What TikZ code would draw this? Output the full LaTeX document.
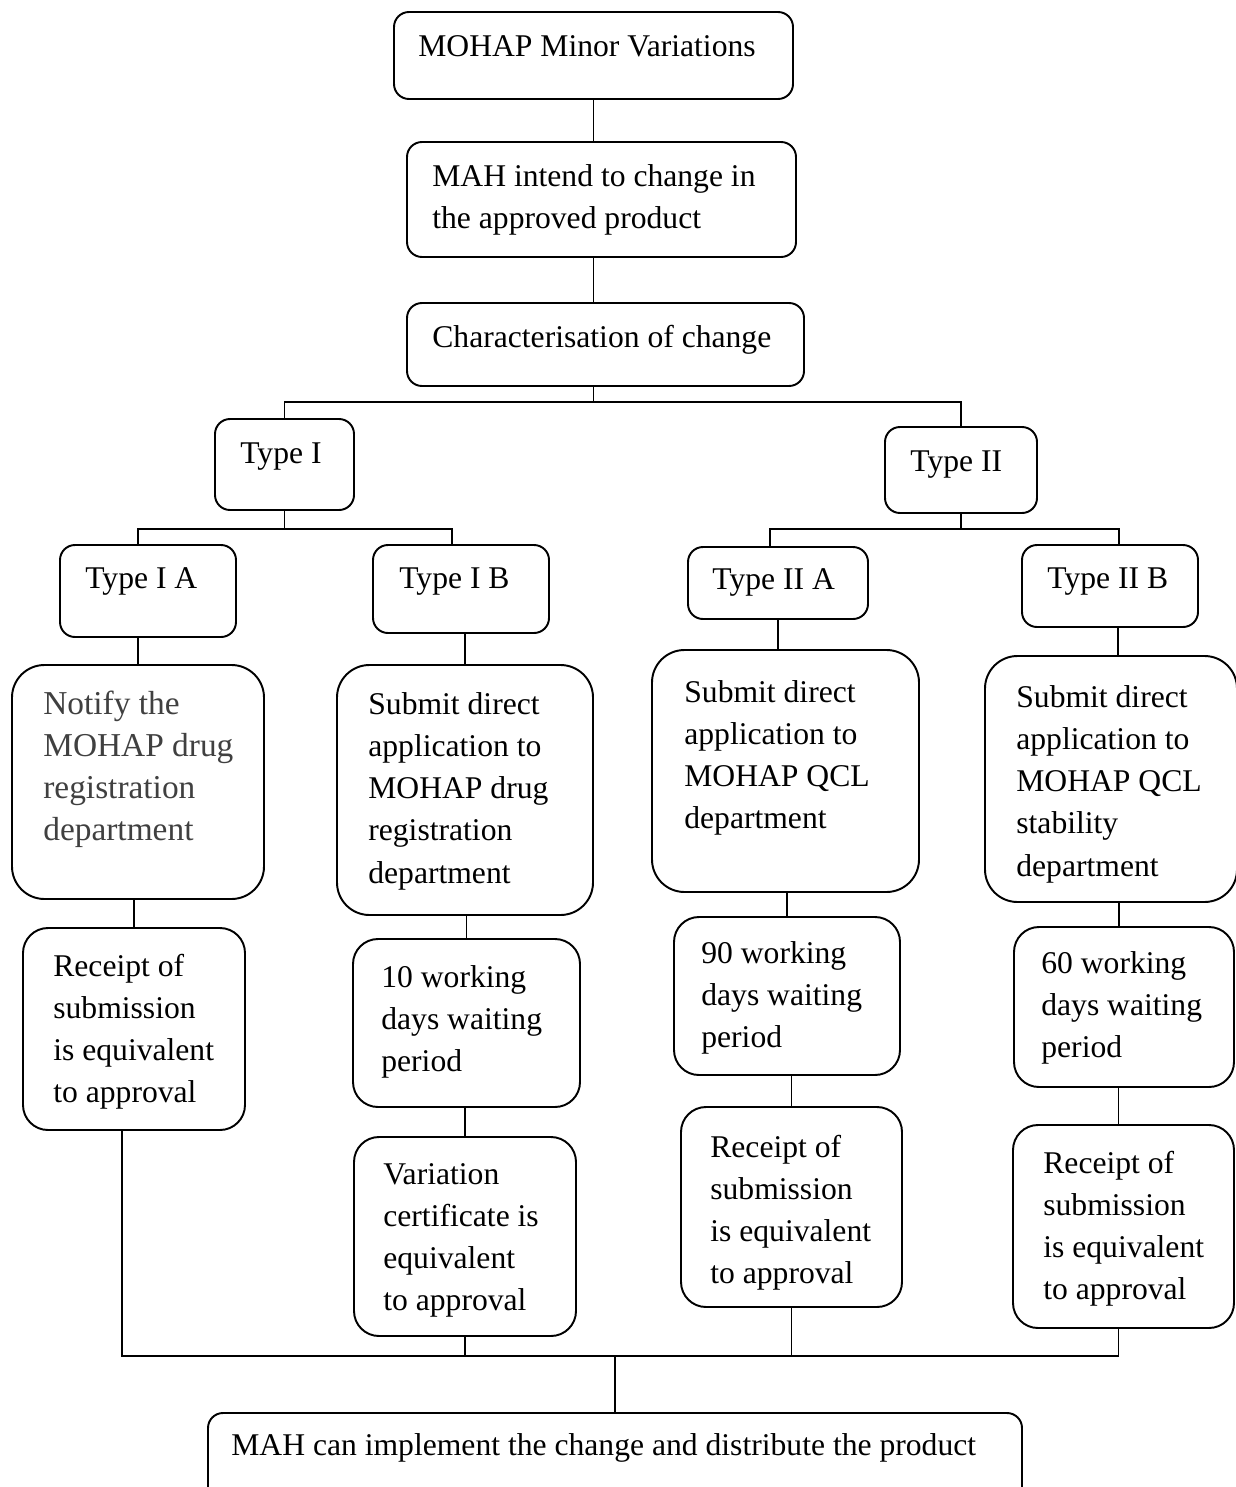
\documentclass[tikz,border=0pt]{standalone}
\usepackage{fontspec}
\setmainfont{Liberation Serif}
\usetikzlibrary{fit,calc}

\tikzset{
  bx/.style={draw, line width=1.1pt, rounded corners=0.3cm, inner sep=0pt},
  midbx/.style={bx, rounded corners=0.5cm},
  bigbx/.style={bx, rounded corners=0.65cm},
  txt/.style={anchor=north west, inner sep=0pt, yshift=16.8pt, align=left, font=\fontsize{18}{24}\selectfont},
  greytxt/.style={txt, text=black!75, font=\fontsize{19}{24}\selectfont},
  conn/.style={line width=1.1pt},
}

\begin{document}
\begin{tikzpicture}[x=0.02cm, y=-0.02cm]
        \useasboundingbox (0, 0) rectangle (1235, 1487);
        % top of the chart
        \node [bx, fit={(394, 12) (793, 99)}] (top) {};
        \node [txt] (top-t) at (418, 56) {\strut MOHAP Minor Variations};
        \node [bx, fit={(407, 142) (796, 257)}] (mah) {};
        \node [txt] (mah-t) at (432, 186) {\strut MAH intend to change in\\the approved product};
        \node [bx, fit={(407, 303) (804, 386)}] (charac) {};
        \node [txt] (charac-t) at (432, 347) {\strut Characterisation of change};
        % types
        \node [bx, fit={(215, 419) (354, 510)}] (typeI) {};
        \node [txt] (typeI-t) at (240, 463) {\strut Type I};
        \node [bx, fit={(885, 427) (1037, 513)}] (typeII) {};
        \node [txt] (typeII-t) at (910, 471) {\strut Type II};
        \node [bx, fit={(60, 545) (236, 637)}] (typeIA) {};
        \node [txt] (typeIA-t) at (85, 588) {\strut Type I A};
        \node [bx, fit={(373, 545) (549, 633)}] (typeIB) {};
        \node [txt] (typeIB-t) at (399, 588) {\strut Type I B};
        \node [bx, fit={(688, 547) (868, 619)}] (typeIIA) {};
        \node [txt] (typeIIA-t) at (712, 589) {\strut Type II A};
        \node [bx, fit={(1022, 545) (1198, 627)}] (typeIIB) {};
        \node [txt] (typeIIB-t) at (1047, 588) {\strut Type II B};
        % what to submit
        \node [bigbx, fit={(12, 665) (264, 899)}] (notify) {};
        \node [greytxt] (notify-t) at (43, 714) {\strut Notify the\\MOHAP drug\\registration\\department};
        \node [bigbx, fit={(337, 665) (593, 915)}] (submitIB) {};
        \node [txt] (submitIB-t) at (368, 714) {\strut Submit direct\\application to\\MOHAP drug\\registration\\department};
        \node [bigbx, fit={(652, 650) (919, 892)}] (submitIIA) {};
        \node [txt] (submitIIA-t) at (684, 702) {\strut Submit direct\\application to\\MOHAP QCL\\department};
        \node [bigbx, fit={(985, 656) (1237, 902)}] (submitIIB) {};
        \node [txt] (submitIIB-t) at (1016, 707) {\strut Submit direct\\application to\\MOHAP QCL\\stability\\department};
        % waiting
        \node [midbx, fit={(23, 928) (245, 1130)}] (receiptIA) {};
        \node [txt] (receiptIA-t) at (53, 976) {\strut Receipt of\\submission\\is equivalent\\to approval};
        \node [midbx, fit={(353, 939) (580, 1107)}] (waitIB) {};
        \node [txt] (waitIB-t) at (381, 987) {\strut 10 working\\days waiting\\period};
        \node [midbx, fit={(674, 917) (900, 1075)}] (waitIIA) {};
        \node [txt] (waitIIA-t) at (701, 963) {\strut 90 working\\days waiting\\period};
        \node [midbx, fit={(1014, 927) (1234, 1087)}] (waitIIB) {};
        \node [txt] (waitIIB-t) at (1041, 973) {\strut 60 working\\days waiting\\period};
        % approval
        \node [midbx, fit={(354, 1137) (576, 1336)}] (certIB) {};
        \node [txt] (certIB-t) at (383, 1184) {\strut Variation\\certificate is\\equivalent\\to approval};
        \node [midbx, fit={(681, 1107) (902, 1307)}] (receiptIIA) {};
        \node [txt] (receiptIIA-t) at (710, 1157) {\strut Receipt of\\submission\\is equivalent\\to approval};
        \node [midbx, fit={(1013, 1125) (1234, 1328)}] (receiptIIB) {};
        \node [txt] (receiptIIB-t) at (1043, 1173) {\strut Receipt of\\submission\\is equivalent\\to approval};
        \node [bx, fit={(208, 1413) (1022, 1520)}] (implement) {};
        \node [txt] (implement-t) at (231, 1455) {\strut MAH can implement the change and distribute the product};
        % connectors
        \coordinate (busA) at (593.5, 402);
        \coordinate (busB) at (284.5, 529);
        \coordinate (busC) at (961, 529);
        \coordinate (busE) at (615, 1356);
        \draw [conn] (top.south) -- (top.south |- mah.north);
        \draw [conn] (top.south |- mah.south) -- (top.south |- charac.north);
        \draw [conn] (top.south |- charac.south) -- (busA);
        \draw [conn] (typeI.north) |- (busA) -| (typeII.north);
        \draw [conn] (typeI.south) -- (busB);
        \draw [conn] (notify.north |- typeIA.north) |- (busB) -| ([xshift=-0.18cm]typeIB.north);
        \draw [conn] (typeII.south) -- (busC);
        \draw [conn] ([xshift=-0.16cm]typeIIA.north) |- (busC) -| ([xshift=0.18cm]typeIIB.north);
        \draw [conn] (notify.north) -- (notify.north |- typeIA.south);
        \draw [conn] (submitIB.north) -- (submitIB.north |- typeIB.south);
        \draw [conn] (typeIIA.south) -- (typeIIA.south |- submitIIA.north);
        \draw [conn] ([xshift=0.14cm]submitIIB.north) -- ([xshift=0.14cm]submitIIB.north |- typeIIB.south);
        \draw [conn] (receiptIA.north) -- (receiptIA.north |- notify.south);
        \draw [conn] (waitIB.north) -- (waitIB.north |- submitIB.south);
        \draw [conn] (waitIIA.north) -- (waitIIA.north |- submitIIA.south);
        \draw [conn] ([xshift=-0.1cm]waitIIB.north) -- ([xshift=-0.1cm]waitIIB.north |- submitIIB.south);
        \draw [conn] (certIB.north) -- (certIB.north |- waitIB.south);
        \draw [conn] (receiptIIA.north) -- (receiptIIA.north |- waitIIA.south);
        \draw [conn] ([xshift=-0.1cm]receiptIIB.north) -- ([xshift=-0.1cm]receiptIIB.north |- waitIIB.south);
        \draw [conn] ([xshift=-0.24cm]receiptIA.south) |- (busE) -| ([xshift=-0.1cm]receiptIIB.south);
        \draw [conn] (certIB.south) -- (certIB.south |- busE);
        \draw [conn] (receiptIIA.south) -- (receiptIIA.south |- busE);
        \draw [conn] (implement.north) -- (implement.north |- busE);
\end{tikzpicture}
\end{document}
